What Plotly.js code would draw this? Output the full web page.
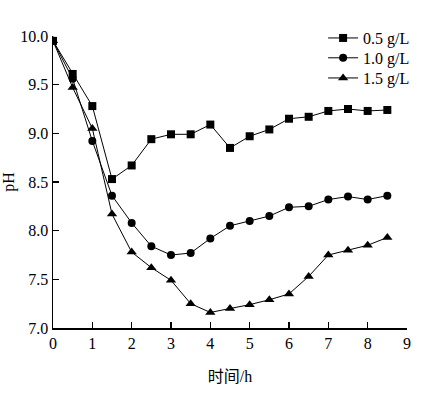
<!DOCTYPE html>
<html><head><meta charset="utf-8">
<script src="https://cdn.plot.ly/plotly-3.0.1.min.js"></script>
<style>html,body{margin:0;padding:0;background:#fff}#chart{width:432px;height:394px}</style>
</head><body><div id="chart"></div>
<script>
const time = [0,0.5,1,1.5,2,2.5,3,3.5,4,4.5,5,5.5,6,6.5,7,7.5,8,8.5];
const ph05 = [9.95,9.61,9.28,8.53,8.67,8.94,8.99,8.99,9.09,8.85,8.97,9.04,9.15,9.17,9.23,9.25,9.23,9.24];
const ph10 = [9.95,9.56,8.92,8.36,8.08,7.84,7.75,7.77,7.92,8.05,8.10,8.15,8.24,8.25,8.32,8.35,8.32,8.36];
const ph15 = [9.95,9.47,9.05,8.17,7.78,7.62,7.49,7.25,7.16,7.20,7.24,7.29,7.35,7.53,7.75,7.80,7.85,7.93];
const names = ['0.5 g/L','1.0 g/L','1.5 g/L'];
const symbols = ['square','circle','triangle-up'];
const series = [ph05, ph10, ph15];
const legendIds = ['legend','legend2','legend3'];
const serif = "'Liberation Serif', 'Times New Roman', Times, serif";
const traces = series.map((s,i)=>({
  x: time, y: s, name: names[i], type:'scatter', mode:'lines+markers',
  legend: legendIds[i],
  line:{color:'#000', width:1},
  marker:{symbol:symbols[i], color:'#000', size: i===2?9:8}
}));
const legendY = [0.993, 0.925, 0.856];
const legendBase = (y)=>({x:0.763, y:y, xanchor:'left', yanchor:'middle', bgcolor:'rgba(0,0,0,0)',
    font:{family:serif, size:16}, itemwidth:30});
const layout = {
  width:432, height:394,
  margin:{l:53, r:25, t:36, b:66},
  paper_bgcolor:'#fff', plot_bgcolor:'#fff',
  font:{family:serif, color:'#000', size:16},
  showlegend:true,
  legend: legendBase(legendY[0]),
  legend2: legendBase(legendY[1]),
  legend3: legendBase(legendY[2]),
  xaxis:{range:[0,9], dtick:1, tick0:0, showgrid:false, zeroline:false,
    showline:true, linecolor:'#000', linewidth:1.5, ticks:'inside', ticklen:6, tickwidth:1.2, tickcolor:'#000',
    tickfont:{family:serif, size:16},
    title:{text:'时间/h', font:{family:"'Liberation Serif', 'Noto Sans CJK SC', serif", size:16}, standoff:20}},
  yaxis:{range:[7,10], dtick:0.5, tick0:7, tickformat:'.1f', showgrid:false, zeroline:false,
    showline:true, linecolor:'#000', linewidth:1.5, ticks:'inside', ticklen:6, tickwidth:1.2, tickcolor:'#000',
    tickfont:{family:serif, size:16},
    title:{text:'pH', font:{family:serif, size:16}, standoff:6}}
};
Plotly.newPlot('chart', traces, layout, {displayModeBar:false, staticPlot:true});
</script></body></html>
